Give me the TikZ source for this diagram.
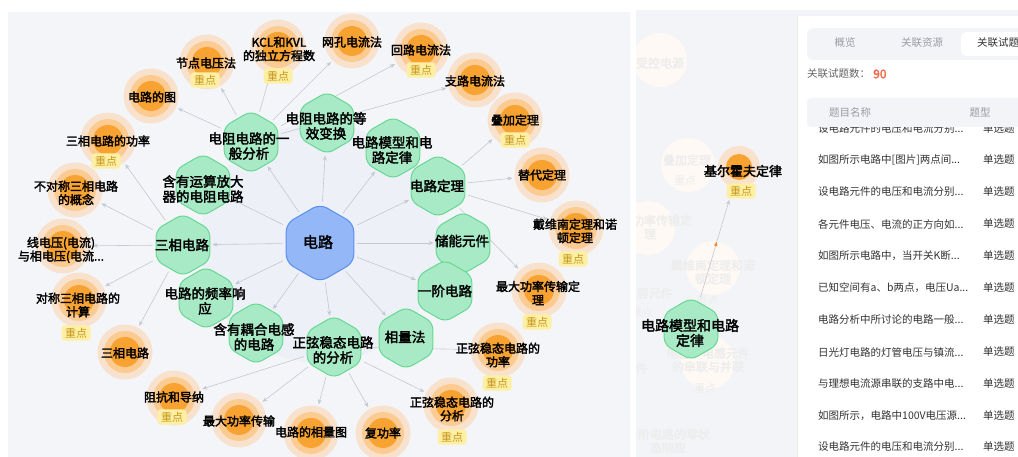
\documentclass[tikz,border=0pt]{standalone}
\usepackage{fontspec}
\setmainfont{Noto Sans CJK SC}
\newfontfamily\hei[FakeBold=2.4]{Noto Sans CJK SC}
\usetikzlibrary{shapes.geometric, arrows.meta}
\definecolor{panelL}{HTML}{F4F5F8}
\definecolor{panelM}{HTML}{F3F4F7}
\definecolor{halo}{HTML}{EDF0F7}
\definecolor{hexfill}{HTML}{A9EAC6}
\definecolor{hexline}{HTML}{67D893}
\definecolor{bluefill}{HTML}{94B8F7}
\definecolor{blueline}{HTML}{5A8FF0}
\definecolor{ringA}{HTML}{F8E2CD}
\definecolor{ringB}{HTML}{FBCB92}
\definecolor{ringC}{HTML}{F8A232}
\definecolor{badgefill}{HTML}{FDF0A4}
\definecolor{badgetext}{HTML}{C7961C}
\definecolor{edgegray}{HTML}{C5C8CF}
\definecolor{markorange}{HTML}{F5842A}
\definecolor{tabgray}{HTML}{F2F4F8}
\definecolor{softtext}{HTML}{9A9CA3}
\definecolor{rowtext}{HTML}{333333}
\definecolor{numred}{HTML}{F26B4A}
\pgfdeclarelayer{back}
\pgfdeclarelayer{edges}
\pgfdeclarelayer{front}
\pgfsetlayers{back,edges,main,front}

\begin{document}
\begin{tikzpicture}[x=1pt, y=-1pt,
  lnk/.style={draw=edgegray, line width=0.6pt, -{Stealth[length=5pt,width=4pt]}, shorten <=3pt, shorten >=2pt},
  hexg/.style={regular polygon, regular polygon sides=6, shape border rotate=30, minimum size=62pt, inner sep=0pt, rounded corners=7pt, fill=hexfill, draw=hexline, line width=1pt},
  hexb/.style={hexg, minimum size=78pt, rounded corners=8pt, fill=bluefill, draw=blueline},
  ring/.style={circle, minimum size=55pt, inner sep=0pt, fill=ringA},
  lbl/.style={font=\fontsize{12}{13.5}\hei, align=center, inner sep=0pt, text=black},
  glbl/.style={lbl, font=\fontsize{13.5}{15}\hei},
  badge/.style={fill=badgefill, rounded corners=3pt, text=badgetext, font=\fontsize{11}{11}\selectfont, inner xsep=3.5pt, inner ysep=2.5pt},
  ghost/.style={text=black!7, font=\fontsize{12}{13.5}\hei, align=center, inner sep=0pt},
  row/.style={anchor=west, text=rowtext, font=\fontsize{10.5}{12}\selectfont, inner sep=0pt},
  tab/.style={text=softtext, font=\fontsize{10.5}{12}\selectfont, inner sep=0pt}]
\useasboundingbox (0,0) rectangle (1018,457);

\begin{pgfonlayer}{back}
\fill[white] (0,0) rectangle (1018,457);
\fill[panelL] (8,12) rectangle (630,457);
\begin{scope}
\clip (8,12) rectangle (630,457);
\fill[halo] (320,243) circle (120pt);
\end{scope}
\fill[panelM] (636,10) rectangle (1018,457);
\end{pgfonlayer}

\node[hexb] (dl) at (320,243) {};
\foreach \n/\x/\y in {ybfx/251/142, dxbh/327/123, mxdl/393/148, dldl/438/186, cnyj/463/243, yjdl/445/291, xlf/406/338, zxwt/334/347, ohdg/256/333, plxy/206/298, sx1/183/245, ysfd/203/185}
  \node[hexg] (\n) at (\x,\y) {};
\foreach \n/\x/\y in {jdy/207/62, kcl/278/47, wk/352/41, hl/421/50, zl/475/80, dj/515/120, td/542/175, dwn/576/228, zdgl/539/290, zxgl/498/350, zxfx/451/405, fgl/383/433, xlt/311/433, zdcs/239/420, zk/174/398, sx2/125/352, dc/79/300, xdy/63/246, bdc/75/190, sxgl/108/140, dlt/151/96}
{
  \node[ring] (\n) at (\x,\y) {};
  \fill[ringB] (\n) circle (21pt);
  \fill[ringC] (\n) circle (15pt);
}

\begin{pgfonlayer}{edges}
\foreach \t in {ybfx, dxbh, mxdl, dldl, cnyj, yjdl, xlf, zxwt, ohdg, plxy, sx1, ysfd}
  \draw[lnk] (dl) -- (\t);
\foreach \t in {jdy, kcl, wk, hl, zl, dlt}
  \draw[lnk] (ybfx) -- (\t);
\foreach \t in {dj, td, dwn, zdgl}
  \draw[lnk] (dldl) -- (\t);
\foreach \t in {zxgl, zxfx, fgl, xlt, zdcs, zk}
  \draw[lnk] (zxwt) -- (\t);
\foreach \t in {xdy, dc, sx2, bdc, sxgl}
  \draw[lnk] (sx1) -- (\t);
\end{pgfonlayer}

\begin{pgfonlayer}{front}
\node[lbl, font=\fontsize{15}{16}\hei] (dl-t) at (318,242) {电路};
\foreach \n/\x/\y/\t in {ybfx/249/146/{电阻电路的一\\般分析}, dxbh/326/126/{电阻电路的等\\效变换}, mxdl/392/150/{电路模型和电\\路定律}, dldl/437/186/{电路定理}, cnyj/462/241/{储能元件}, yjdl/445/291/{一阶电路}, xlf/405/337/{相量法}, zxwt/333/350/{正弦稳态电路\\的分析}, ohdg/254/337/{含有耦合电感\\的电路}, plxy/205/301/{电路的频率响\\应}, sx1/182/245/{三相电路}, ysfd/203/189/{含有运算放大\\器的电阻电路}}
  \node[glbl] (\n-t) at (\x,\y) {\t};
\foreach \n/\x/\y/\t in {jdy/206/63/{节点电压法}, kcl/279/49/{KCL和KVL\\的独立方程数}, wk/352/42/{网孔电流法}, hl/421/50/{回路电流法}, zl/475/81/{支路电流法}, dj/515/120/{叠加定理}, td/542/175/{替代定理}, dwn/575/231/{戴维南定理和诺\\顿定理}, zdgl/538/293/{最大功率传输定\\理}, zxgl/498/355/{正弦稳态电路的\\功率}, zxfx/452/409/{正弦稳态电路的\\分析}, fgl/383/433/{复功率}, xlt/311/432/{电路的相量图}, zdcs/239/421/{最大功率传输}, zk/174/397/{阻抗和导纳}, sx2/125/353/{三相电路}, dc/78/305/{对称三相电路的\\计算}, xdy/61/250/{线电压(电流)\\与相电压(电流...}, bdc/76/193/{不对称三相电路\\的概念}, sxgl/108/141/{三相电路的功率}, dlt/152/97/{电路的图}}
  \node[lbl] (\n-t) at (\x,\y) {\t};
\foreach \n/\x/\y in {jdy/205/80, kcl/278/76, hl/421/70, dj/515/140, dwn/573/259, zdgl/537/322, zxgl/497/383, zxfx/452/437, zk/172/417, dc/76/333, sxgl/106/161}
  \node[badge] (\n-b) at (\x,\y) {重点};
\end{pgfonlayer}

\begin{scope}
\clip (636,10) rectangle (797,457);
\foreach \x/\y in {660/60, 688/165, 648/228, 713/268, 708/362}
  \fill[ringA!20] (\x,\y) circle (27pt);
\node[ghost] at (660,63) {受控电源};
\node[ghost] at (687,160) {叠加定理};
\node[ghost, font=\fontsize{11}{11}\selectfont] at (685,180) {重点};
\node[ghost] at (650,227) {最大功率传输定\\理};
\node[ghost] at (713,272) {戴维南定理和诺\\顿定理};
\node[ghost, anchor=east] at (673,293) {电容元件};
\node[ghost, font=\fontsize{11}{11}\selectfont] at (642,312) {重点};
\node[ghost, font=\fontsize{11}{11}\selectfont] at (707,300) {重点};
\node[ghost] at (708,360) {电容、电感元件\\的串联与并联};
\node[ghost, font=\fontsize{11}{11}\selectfont] at (705,388) {重点};
\node[ghost, anchor=east] at (648,368) {储能元件};
\node[ghost] at (668,441) {一阶电路的零状\\态响应};
\node[hexg] (mx2) at (691,329) {};
\node[circle, minimum size=42pt, inner sep=0pt, fill=ringA] (jef) at (739,167) {};
\fill[ringC] (jef) circle (13pt);
\draw[lnk, shorten >=13pt, shorten <=5pt] (mx2) -- (jef)
  node[midway, sloped, isosceles triangle, fill=markorange, minimum size=3.5pt, inner sep=0pt] {};
\node[lbl, font=\fontsize{14}{15}\hei] (mx2-t) at (690,333) {电路模型和电路\\定律};
\node[lbl, font=\fontsize{13}{14}\hei] (jef-t) at (743,171) {基尔霍夫定律};
\node[badge] (jef-b) at (741,191) {重点};
\end{scope}

\begin{scope}
\clip (797,0) rectangle (1018,457);
\fill[white] (797,16) rectangle (1030,457);
\draw[black!8] (797,16) -- (797,457);
\fill[tabgray, rounded corners=6pt] (807,28) rectangle (1040,60);
\fill[white, rounded corners=5pt] (961,32) rectangle (1040,56);
\node[tab] (tab1) at (845,43) {概览};
\node[tab] (tab2) at (922,43) {关联资源};
\node[tab, anchor=west, text=rowtext] (tab3) at (977,43) {关联试题};
\node[tab, anchor=west, text=black!60] (cnt) at (807,74) {关联试题数：};
\node[anchor=west, inner sep=0pt, text=numred, font=\fontsize{12}{12}\hei] (num) at (873,74) {90};
\foreach \y/\t in {129/{设电路元件的电压和电流分别...}, 160/{如图所示电路中[图片]两点间...}, 192/{设电路元件的电压和电流分别...}, 224/{各元件电压、电流的正方向如...}, 256/{如图所示电路中，当开关K断...}, 288/{已知空间有a、b两点，电压Ua...}, 320/{电路分析中所讨论的电路一般...}, 352/{日光灯电路的灯管电压与镇流...}, 384/{与理想电流源串联的支路中电...}, 416/{如图所示，电路中100V电压源...}, 447/{设电路元件的电压和电流分别...}}
{
  \node[row] at (818,\y) {\t};
  \node[row] at (983,\y) {单选题};
}
\fill[tabgray, rounded corners=4pt] (807,98) rectangle (1040,127);
\node[tab] (h1) at (850,113) {题目名称};
\node[tab] (h2) at (980,113) {题型};
\end{scope}
\end{tikzpicture}
\end{document}
